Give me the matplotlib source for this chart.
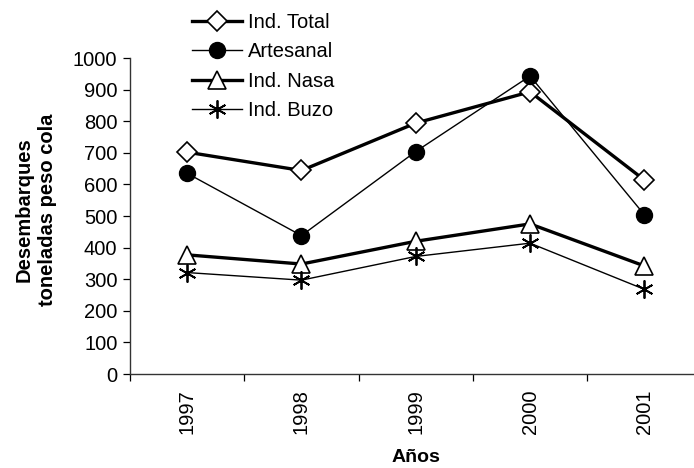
import matplotlib
matplotlib.use("Agg")
import matplotlib.pyplot as plt
from matplotlib.ticker import FixedLocator

plt.rcParams['font.family'] = ['Liberation Sans', 'DejaVu Sans']

# Desembarques por flota (toneladas peso cola)
years = ['1997', '1998', '1999', '2000', '2001']
ind_total = [702, 644, 794, 893, 614]
artesanal = [635, 438, 704, 943, 504]
ind_nasa = [377, 348, 420, 475, 342]
ind_buzo = [321, 297, 372, 414, 268]

fig = plt.figure(figsize=(6.94, 4.68), dpi=100)
ax = fig.add_axes([130 / 694, 94 / 468, 571.5 / 694, 316 / 468])

x = list(range(len(years)))

ax.plot(x, ind_total, color='black', lw=2.4, marker='D', ms=10,
        mfc='white', mec='black', mew=1.2, label='Ind. Total')
ax.plot(x, artesanal, color='black', lw=1.0, marker='o', ms=11.5,
        mfc='black', mec='black', label='Artesanal')
ax.plot(x, ind_nasa, color='black', lw=2.4, marker='^', ms=13,
        mfc='white', mec='black', mew=1.2, label='Ind. Nasa')
ax.plot(x, ind_buzo, color='black', lw=1.0, marker=(6, 2, 0), ms=13,
        mec='black', mew=1.3, label='Ind. Buzo')

ax.set_xlim(-0.5, len(years) - 0.5)
ax.set_ylim(0, 1000)
ax.set_yticks(range(0, 1001, 100))

# category separators as major ticks, year labels on minor ticks
ax.xaxis.set_major_locator(FixedLocator([i - 0.5 for i in range(len(years) + 1)]))
ax.xaxis.set_minor_locator(FixedLocator(x))
ax.xaxis.set_major_formatter(plt.NullFormatter())
ax.set_xticks(x, years, minor=True, rotation=90)
ax.tick_params(axis='x', which='major', direction='out', length=5, width=0.9)
ax.tick_params(axis='x', which='minor', length=0, pad=11, labelsize=14.5)
ax.tick_params(axis='y', direction='out', length=5, width=0.9, pad=4, labelsize=14.5)

for side in ('top', 'right'):
    ax.spines[side].set_visible(False)
for side in ('left', 'bottom'):
    ax.spines[side].set_color('#333333')
    ax.spines[side].set_linewidth(1.0)

ax.set_xlabel('Años', fontsize=14, fontweight='bold')
ax.xaxis.set_label_coords(0.5, -0.238)
ax.set_ylabel('Desembarques\ntoneladas peso cola', fontsize=14.5,
              fontweight='bold', linespacing=1.3)
ax.yaxis.set_label_coords(-0.128, 0.52)

ax.legend(loc='upper left', bbox_to_anchor=(192 / 694, 1 - 13 / 468),
          bbox_transform=fig.transFigure, frameon=False, borderpad=0,
          borderaxespad=0, handlelength=2.5, handletextpad=0.3,
          labelspacing=0.52, fontsize=14.5)

fig.savefig('out.png', dpi=100)
